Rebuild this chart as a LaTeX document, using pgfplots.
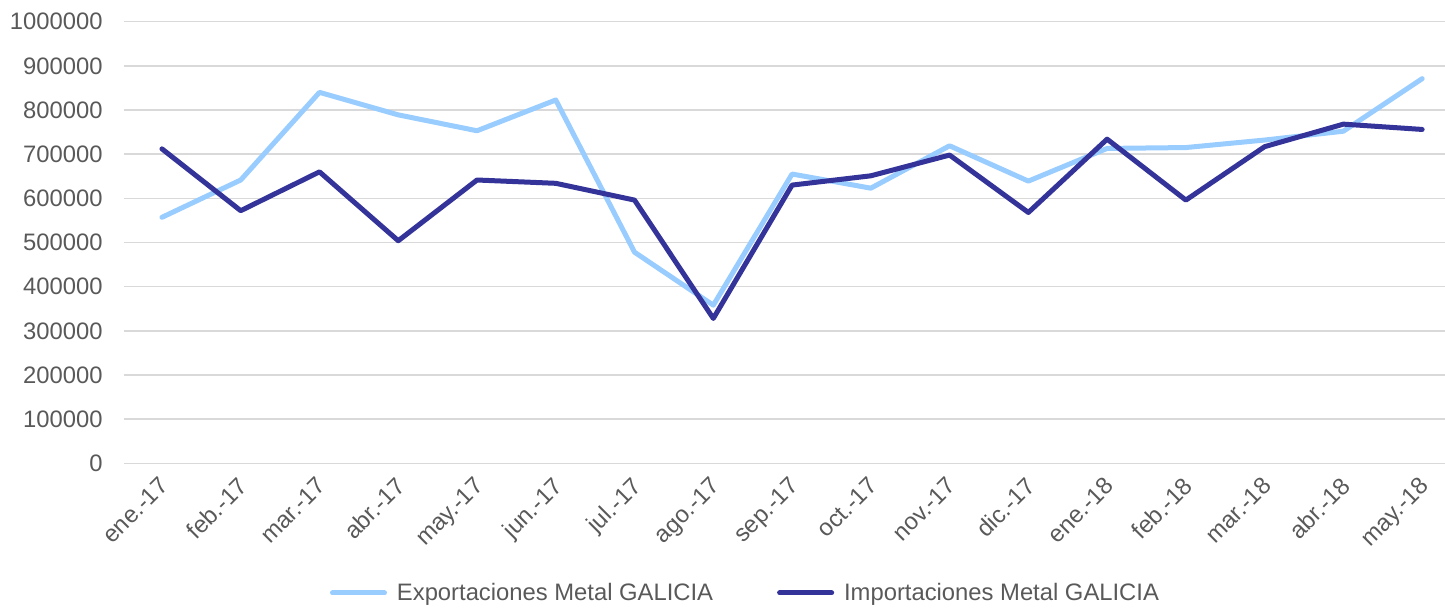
\documentclass[border=0pt]{standalone}
\usepackage{pgfplots}
\pgfplotsset{compat=1.18}
\usepackage{fontspec}
\setmainfont{Liberation Sans}
\definecolor{expc}{RGB}{153,204,255}
\definecolor{impc}{RGB}{51,51,153}
\definecolor{gridc}{RGB}{217,217,217}
\definecolor{txtc}{RGB}{89,89,89}
\begin{document}
\begin{tikzpicture}
\begin{axis}[
  at={(0,0)}, anchor=south west,
  scale only axis,
  width=660.5pt, height=220.8pt,
  xmin=-0.482, xmax=16.29,
  ymin=0, ymax=1000000,
  ytick={0,100000,...,1000000},
  xtick={0,...,16},
  xticklabels={ene.-17,feb.-17,mar.-17,abr.-17,may.-17,jun.-17,jul.-17,ago.-17,sep.-17,oct.-17,nov.-17,dic.-17,ene.-18,feb.-18,mar.-18,abr.-18,may.-18},
  scaled y ticks=false,
  /pgf/number format/.cd, fixed, 1000 sep={}, assume math mode=true, /pgfplots/.cd,
  axis line style={draw=none},
  major tick length=0pt,
  ymajorgrids, grid style={gridc, line width=0.75pt},
  tick label style={font=\fontsize{11.9}{13}\selectfont, text=txtc, inner sep=0pt},
  yticklabel style={xshift=-10.5pt},
  xticklabel style={xshift=-2pt, yshift=-6pt, rotate=45, anchor=north east},
  legend style={at={(0.4712,-0.2937)}, anchor=center, draw=none, fill=none,
    legend columns=2, font=\fontsize{11.9}{13}\selectfont, text=txtc,
    /tikz/every odd column/.append style={column sep=3pt},
    /tikz/every even column/.append style={column sep=30pt},
    nodes={inner sep=2pt}},
  legend image code/.code={\draw[#1, line width=2.5pt, line cap=round] (0pt,0pt) -- (26pt,0pt);},
]
\addplot[expc, line width=2.5pt, line join=round, line cap=round] coordinates {
(0,557000) (1,641500) (2,840000) (3,789000) (4,753000) (5,822700) (6,478000) (7,358000) (8,655000) (9,623000) (10,719000) (11,639000) (12,713000) (13,715000) (14,732000) (15,752000) (16,871000)};
\addlegendentry{Exportaciones Metal GALICIA}
\addplot[impc, line width=2.5pt, line join=round, line cap=round] coordinates {
(0,712000) (1,572000) (2,660000) (3,504000) (4,641500) (5,634000) (6,596000) (7,328000) (8,630000) (9,651000) (10,698000) (11,568000) (12,734000) (13,596000) (14,717000) (15,768000) (16,756000)};
\addlegendentry{Importaciones Metal GALICIA}
\end{axis}
\pgfresetboundingbox
\path (-62pt,-72.85pt) rectangle (660.5pt,231.65pt);
\end{tikzpicture}
\end{document}
